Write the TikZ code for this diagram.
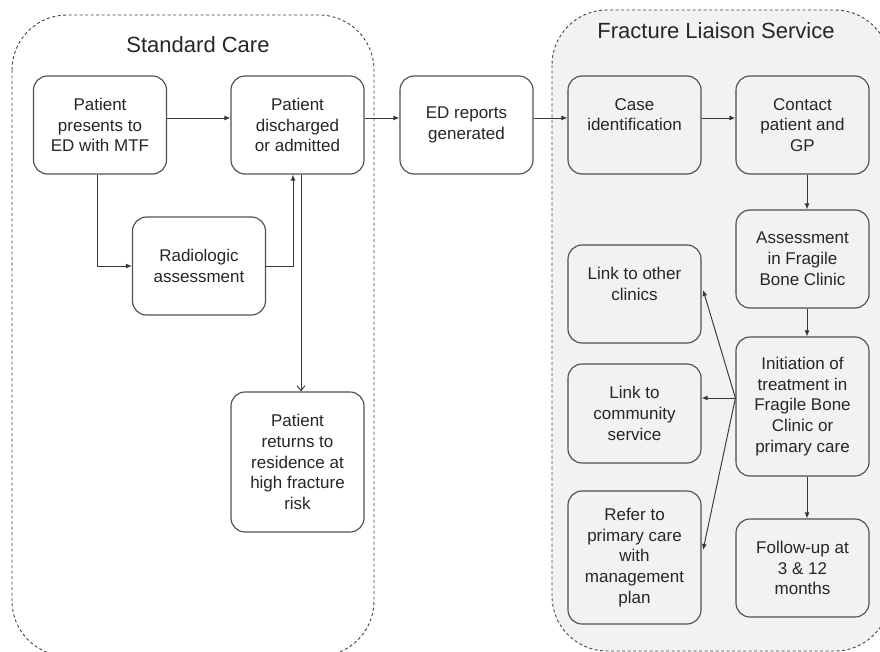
\documentclass[tikz,border=0pt]{standalone}
\usepackage{fontspec}
\setmainfont{Liberation Sans}
\usetikzlibrary{arrows.meta}
\definecolor{txt}{HTML}{262626}
\definecolor{edgec}{HTML}{505050}
\definecolor{linec}{HTML}{383838}
\definecolor{groupc}{HTML}{454545}
\definecolor{flsfill}{HTML}{F1F2F2}
\begin{document}
\begin{tikzpicture}[x=1pt,y=-1pt,
  box/.style={draw=edgec, line width=1.15pt, rounded corners=14pt, minimum width=133pt,
    inner sep=0pt, align=center, text=txt, font=\fontsize{17}{20.8}\selectfont},
  arr/.style={draw=linec, line width=0.95pt, -{Latex[length=6pt,width=5pt]}},
  openarr/.style={draw=linec, line width=0.95pt, -{Straight Barb[length=5pt,width=8pt]}},
  group/.style={draw=groupc, line width=0.9pt, dash pattern=on 3pt off 2.5pt, rounded corners=55pt},
  title/.style={text=txt, font=\fontsize{22}{26}\selectfont, inner sep=0pt}]
\useasboundingbox (0,0) rectangle (880,652);
\clip (0,0) rectangle (880,652);
\fill[white] (0,0) rectangle (880,652);
% group frames
\draw[group] (12,15) rectangle (374,656);
\draw[group, fill=flsfill] (552,10) rectangle (890,651);
\node[title] (sct) at (198,45) {Standard Care};
\node[title] (flst) at (716,31) {Fracture Liaison Service};
% boxes
\node[box, minimum height=98pt] (pres) at (100,125) {Patient\\presents to\\ED with MTF};
\node[box, minimum height=98pt] (dis) at (297.5,125) {Patient\\discharged\\or admitted};
\node[box, minimum height=98pt] (ed) at (466.5,125) {ED reports\\generated};
\node[box, minimum height=98pt] (case) at (634.5,125) {Case\\identification\\~};
\node[box, minimum height=98pt] (cont) at (802.5,125) {Contact\\patient and\\GP};
\node[box, minimum height=98pt] (rad) at (199,266) {Radiologic\\assessment};
\node[box, minimum height=140pt] (ret) at (297.5,462) {Patient\\returns to\\residence at\\high fracture\\risk};
\node[box, minimum height=98pt] (assess) at (802.5,259) {Assessment\\in Fragile\\Bone Clinic};
\node[box, minimum height=98pt] (other) at (634.5,294) {Link to other\\clinics\\~};
\node[box, minimum height=139pt] (init) at (802.5,406.5) {Initiation of\\treatment in\\Fragile Bone\\Clinic or\\primary care};
\node[box, minimum height=99pt] (comm) at (634.5,413.5) {Link to\\community\\service};
\node[box, minimum height=133pt] (refer) at (634.5,557.5) {Refer to\\primary care\\with\\management\\plan};
\node[box, minimum height=98pt] (follow) at (802.5,568) {Follow-up at\\3 \& 12\\months};
% connectors
\draw[arr] ([yshift=7pt]pres.east) -- ([yshift=7pt]dis.west);
\draw[arr] ([yshift=7pt]dis.east) -- ([yshift=7pt]ed.west);
\draw[arr] ([yshift=7pt]ed.east) -- ([yshift=7pt]case.west);
\draw[arr] ([yshift=7pt]case.east) -- ([yshift=7pt]cont.west);
\draw[arr] ([xshift=-3pt]pres.south) |- (rad.west);
\draw[arr] (rad.east) -| ([xshift=-4.5pt]dis.south);
\draw[openarr] ([xshift=3.5pt]dis.south) -- ([xshift=3.5pt]dis.south |- ret.north);
\draw[arr] ([xshift=4.5pt]cont.south) -- ([xshift=4.5pt]cont.south |- assess.north);
\draw[arr] ([xshift=4.5pt]assess.south) -- ([xshift=4.5pt]assess.south |- init.north);
\draw[arr] ([xshift=4.5pt]init.south) -- ([xshift=4.5pt]init.south |- follow.north);
\draw[arr] ([yshift=8.5pt]init.west) -- ([yshift=4pt,xshift=1.5pt]other.east);
\draw[arr] ([yshift=8.5pt]init.west) -- ([yshift=15.5pt]comm.east);
\draw[arr] ([yshift=8.5pt]init.west) -- ([yshift=7.5pt,xshift=1.5pt]refer.east);
\end{tikzpicture}
\end{document}
